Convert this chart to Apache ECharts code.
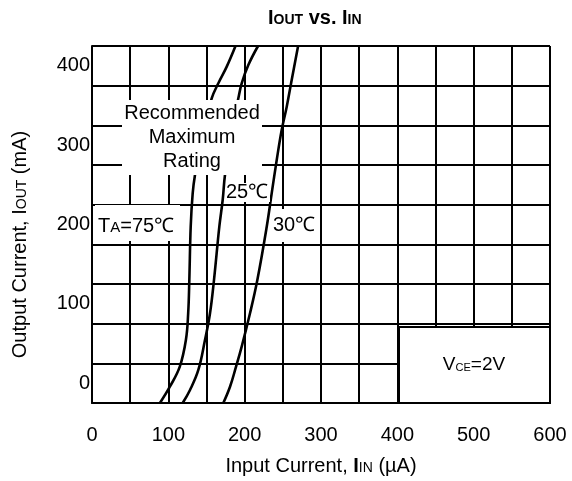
<!DOCTYPE html>
<html><head><meta charset="utf-8">
<script src="https://cdn.jsdelivr.net/npm/echarts@6/dist/echarts.min.js"></script>
<style>html,body{margin:0;padding:0;background:#fff}#c{width:572px;height:481px}</style>
</head><body><div id="c"></div>
<script>
// Input current (µA) values for each curve
var x75 = [89, 102, 115, 123, 126, 127.5, 129.3, 131.9, 134.9, 144, 156.8, 165.5, 176.5, 188];
var y75 = [-25, -4.5, 20.8, 54.4, 88.1, 130, 197.2, 239.3, 262.4, 312, 359, 378, 399, 425];
var x25 = [118.8, 128.4, 139.3, 148, 154.6, 159.8, 166.8, 171.2, 174.2, 182, 191.7, 196.1, 204.8, 217.5];
var y25 = [-25, -8.6, 16.6, 54.4, 88.1, 130, 197.2, 230.9, 262.4, 312, 359, 378, 401, 425];
var x30 = [172, 180.8, 188.7, 196.1, 207, 216.6, 228.9, 235.4, 242, 248.5, 255.1, 261.6, 270];
var y30 = [-25, -4.5, 20.8, 46, 88.1, 130, 197.2, 239.3, 281.3, 319.1, 348.5, 382.2, 425];
var xTicks = [0, 100, 200, 300, 400, 500, 600];
var yTicks = [0, 100, 200, 300, 400];

function pairs(xs, ys) { return xs.map(function (v, i) { return [v, ys[i]]; }); }

var FONT = '"Liberation Sans", Arial, Helvetica, sans-serif';
var chart = echarts.init(document.getElementById('c'), null, {renderer: 'canvas'});
var lineStyle = {color: '#000', width: 2.6};
function mk(name, xs, ys) {
  return {name: name, type: 'line', data: pairs(xs, ys), smooth: 0.4, showSymbol: false,
    lineStyle: lineStyle, xAxisIndex: 0, yAxisIndex: 0, z: 3, clip: true};
}
function rich(size, sub) {
  return {
    n: {fontSize: size, fontFamily: FONT, color: '#000', verticalAlign: 'bottom'},
    b: {fontSize: size, fontWeight: 'bold', fontFamily: FONT, color: '#000', verticalAlign: 'bottom'},
    s: {fontSize: sub, fontFamily: FONT, color: '#000', verticalAlign: 'bottom', padding: [0, 0, 1, 0]}
  };
}
var option = {
  animation: false,
  backgroundColor: '#fff',
  textStyle: {fontFamily: FONT, color: '#000'},
  title: {
    text: '{b|I}{s|OUT}{n| vs. }{b|I}{s|IN}',
    left: 268, top: 8, padding: 0,
    textStyle: {rich: rich(20, 14)}
  },
  grid: {left: 92, right: 22, top: 46, bottom: 78, containLabel: false},
  xAxis: {
    type: 'value', min: 0, max: 600, interval: 50,
    axisLine: {show: true, onZero: false, lineStyle: {color: '#000', width: 2}},
    axisTick: {show: false},
    axisLabel: {margin: 22, fontSize: 20, color: '#000', fontFamily: FONT,
      formatter: function (v) { return xTicks.indexOf(v) >= 0 ? String(v) : ''; }},
    splitLine: {show: true, lineStyle: {color: '#000', width: 2}},
    name: '{n|Input Current, }{b|I}{s|IN}{n| (µA)}',
    nameLocation: 'middle', nameGap: 53,
    nameTextStyle: {rich: rich(20, 14)}
  },
  yAxis: [{
    type: 'value', min: -25, max: 425, interval: 50, position: 'left',
    axisLine: {show: true, onZero: false, lineStyle: {color: '#000', width: 2}},
    axisTick: {show: false}, axisLabel: {show: false},
    splitLine: {show: true, lineStyle: {color: '#000', width: 2}}
  }, {
    type: 'value', min: -25, max: 425, position: 'left', offset: 0,
    axisLine: {show: false, onZero: false}, axisTick: {show: false},
    axisLabel: {margin: 2, fontSize: 20, color: '#000', fontFamily: FONT, showMinLabel: false, showMaxLabel: false,
      formatter: function (v) { return yTicks.indexOf(v) >= 0 ? String(v) : ''; }},
    splitLine: {show: false},
    name: '{n|Output Current, }{n|I}{s|OUT}{n| (mA)}',
    nameLocation: 'middle', nameGap: 62, nameRotate: 90,
    nameTextStyle: {padding: [0, 40, 0, 0], rich: rich(20, 14)}
  }],
  series: [mk('TA=75°C', x75, y75), mk('25°C', x25, y25), mk('30°C', x30, y30),
    {type: 'line', data: [], yAxisIndex: 1}],
  graphic: [
    {type: 'rect', z: 100, shape: {x: 122, y: 100, width: 140, height: 75}, style: {fill: '#fff'}},
    {type: 'text', z: 101, x: 192, y: 137, style: {text: 'Recommended\nMaximum\nRating', font: '20px ' + FONT,
      fill: '#000', align: 'center', verticalAlign: 'middle', lineHeight: 24}},
    {type: 'rect', z: 100, shape: {x: 95, y: 205, width: 85, height: 36}, style: {fill: '#fff'}},
    {type: 'text', z: 101, x: 98, y: 226, style: {text: '{t|T}{a|A}{t|=75℃}', fill: '#000', verticalAlign: 'middle',
      rich: {t: {fontSize: 20, fontFamily: FONT, fill: '#000', verticalAlign: 'bottom'},
             a: {fontSize: 15, fontFamily: FONT, fill: '#000', verticalAlign: 'bottom', padding: [0, 0, 1, 0]}}}},
    {type: 'rect', z: 100, shape: {x: 226, y: 183, width: 44, height: 19}, style: {fill: '#fff'}},
    {type: 'text', z: 101, x: 226, y: 192, style: {text: '25℃', font: '20px ' + FONT, fill: '#000', verticalAlign: 'middle'}},
    {type: 'rect', z: 100, shape: {x: 272, y: 209, width: 45, height: 33}, style: {fill: '#fff'}},
    {type: 'text', z: 101, x: 273, y: 225, style: {text: '30℃', font: '20px ' + FONT, fill: '#000', verticalAlign: 'middle'}},
    {type: 'rect', z: 100, shape: {x: 399, y: 327, width: 151, height: 76}, style: {fill: '#fff', stroke: '#000', lineWidth: 2}},
    {type: 'text', z: 101, x: 474, y: 365, style: {text: '{v|V}{c|CE}{v|=2V}', fill: '#000', align: 'center', verticalAlign: 'middle',
      rich: {v: {fontSize: 19, fontFamily: FONT, fill: '#000', verticalAlign: 'bottom'},
             c: {fontSize: 11, fontFamily: FONT, fill: '#000', verticalAlign: 'bottom', padding: [0, 0, 1, 0]}}}}
  ]
};
chart.setOption(option);
</script>
</body></html>
